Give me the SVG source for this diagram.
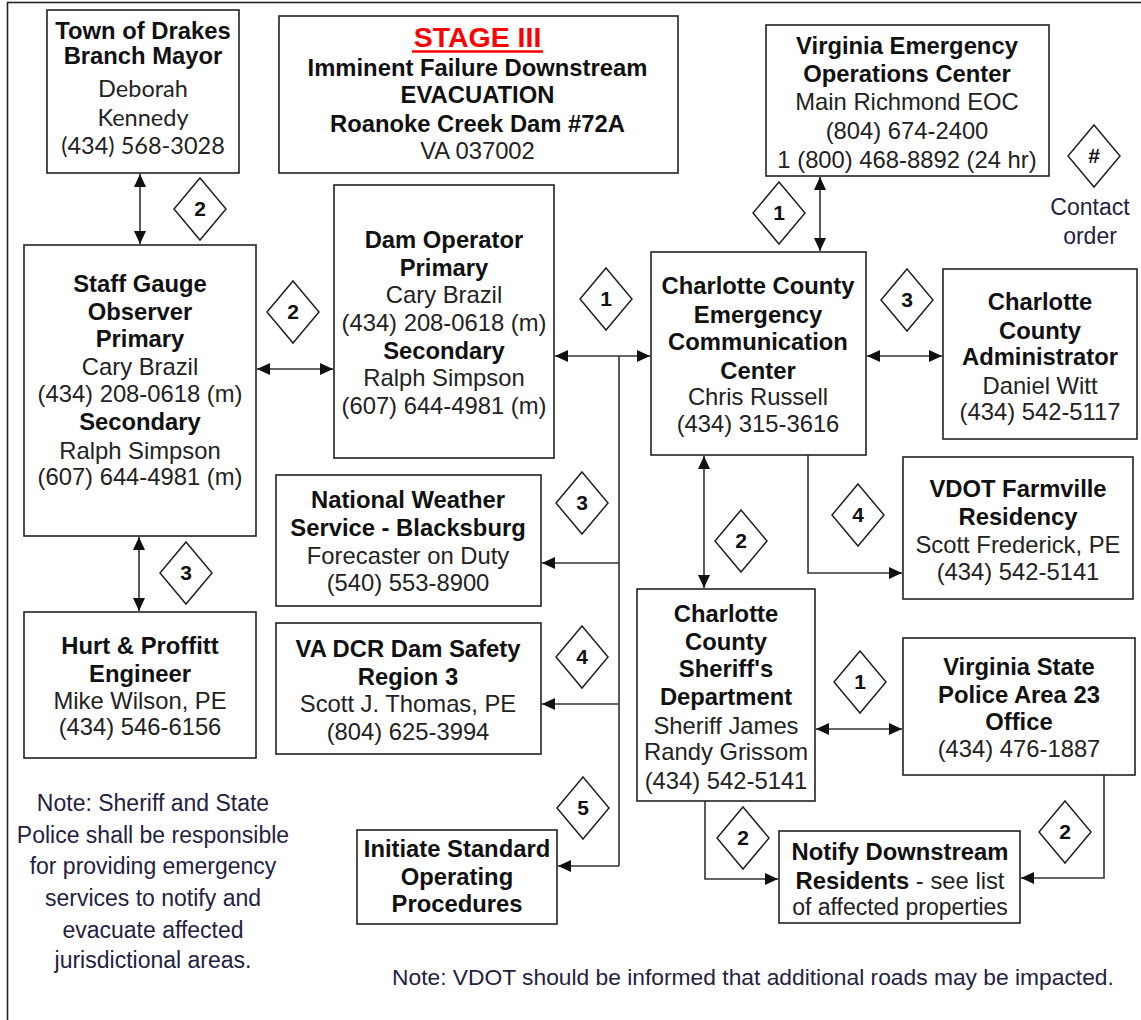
<svg xmlns="http://www.w3.org/2000/svg" width="1141" height="1020" viewBox="0 0 1141 1020">
<style>
.box{fill:#fff;stroke:#222;stroke-width:1.6}
.b{font-family:"Liberation Sans",Arial,sans-serif;font-weight:bold;font-size:23.8px;fill:#111;text-anchor:middle}
.n{font-family:"Liberation Sans",Arial,sans-serif;font-size:23.8px;fill:#222;text-anchor:middle}
.c{font-family:Lato,"Liberation Sans",sans-serif;font-size:23.5px;fill:#222;text-anchor:middle}
.note{font-family:"Liberation Sans",Arial,sans-serif;font-size:23px;fill:#1f2240;text-anchor:middle}
.dia{fill:#fff;stroke:#222;stroke-width:1.5}
.dn{font-family:"Liberation Sans",Arial,sans-serif;font-weight:bold;font-size:21px;fill:#111;text-anchor:middle}
.ln{fill:none;stroke:#333;stroke-width:1.6}
</style>
<defs>
<marker id="ah" markerUnits="userSpaceOnUse" markerWidth="14" markerHeight="12" refX="13" refY="6" orient="auto-start-reverse">
<path d="M0,0 L13,6 L0,12 z" fill="#111"/>
</marker>
<g id="dshape"><path d="M0,-31 L26,0 L0,31 L-26,0 z"/></g>
</defs>
<rect x="7.5" y="2.5" width="1140" height="1030" fill="#fff" stroke="#222" stroke-width="1.6"/>

<g id="connectors">
<line class="ln" x1="140" y1="174" x2="140" y2="244" marker-start="url(#ah)" marker-end="url(#ah)"/>
<line class="ln" x1="257" y1="369" x2="333" y2="369" marker-start="url(#ah)" marker-end="url(#ah)"/>
<line class="ln" x1="555" y1="356" x2="650" y2="356" marker-start="url(#ah)" marker-end="url(#ah)"/>
<line class="ln" x1="820" y1="177" x2="820" y2="251" marker-start="url(#ah)" marker-end="url(#ah)"/>
<line class="ln" x1="867" y1="356" x2="942" y2="356" marker-start="url(#ah)" marker-end="url(#ah)"/>
<path class="ln" d="M808,455 V573 H902" marker-end="url(#ah)"/>
<path class="ln" d="M619,356 V866"/>
<path class="ln" d="M619,563 H542" marker-end="url(#ah)"/>
<path class="ln" d="M619,704 H542" marker-end="url(#ah)"/>
<path class="ln" d="M619,866 H558" marker-end="url(#ah)"/>
<line class="ln" x1="704" y1="456" x2="704" y2="588" marker-start="url(#ah)" marker-end="url(#ah)"/>
<line class="ln" x1="816" y1="729" x2="902" y2="729" marker-start="url(#ah)" marker-end="url(#ah)"/>
<path class="ln" d="M705,801 V879 H778" marker-end="url(#ah)"/>
<path class="ln" d="M1104,775 V878 H1021" marker-end="url(#ah)"/>
<line class="ln" x1="139" y1="537" x2="139" y2="611" marker-start="url(#ah)" marker-end="url(#ah)"/>
</g>

<g id="mayor">
<rect class="box" x="47" y="10" width="192" height="163"/>
<text class="b" x="143" y="39">Town of Drakes</text>
<text class="b" x="143" y="64">Branch Mayor</text>
<text class="c" x="143" y="97">Deborah</text>
<text class="c" x="143" y="126">Kennedy</text>
<text class="c" x="143" y="154">(434) 568-3028</text>
</g>

<g id="stage">
<rect class="box" x="279" y="16" width="399" height="157"/>
<text class="b" x="477.5" y="47" style="fill:#f00;font-size:28.5px">STAGE III</text>
<line x1="412" y1="51.5" x2="543" y2="51.5" stroke="#f00" stroke-width="2.6"/>
<text class="b" x="477.5" y="76">Imminent Failure Downstream</text>
<text class="b" x="477.5" y="103">EVACUATION</text>
<text class="b" x="477.5" y="132">Roanoke Creek Dam #72A</text>
<text class="n" x="477.5" y="159">VA 037002</text>
</g>

<g id="eoc">
<rect class="box" x="766" y="25" width="283" height="151"/>
<text class="b" x="907" y="54">Virginia Emergency</text>
<text class="b" x="907" y="82">Operations Center</text>
<text class="n" x="907" y="110">Main Richmond EOC</text>
<text class="n" x="907" y="139">(804) 674-2400</text>
<text class="n" x="907" y="168">1 (800) 468-8892 (24 hr)</text>
</g>

<g id="legend">
<use href="#dshape" class="dia" x="1094" y="156"/>
<text class="dn" x="1094" y="163">#</text>
<text class="note" x="1090" y="215">Contact</text>
<text class="note" x="1090" y="244">order</text>
</g>

<g id="staff">
<rect class="box" x="24" y="245" width="232" height="291"/>
<text class="b" x="140" y="292">Staff Gauge</text>
<text class="b" x="140" y="320">Observer</text>
<text class="b" x="140" y="347">Primary</text>
<text class="n" x="140" y="375">Cary Brazil</text>
<text class="n" x="140" y="402">(434) 208-0618 (m)</text>
<text class="b" x="140" y="430">Secondary</text>
<text class="n" x="140" y="459">Ralph Simpson</text>
<text class="n" x="140" y="485">(607) 644-4981 (m)</text>
</g>

<g id="damop">
<rect class="box" x="334" y="185" width="220" height="273"/>
<text class="b" x="444" y="248">Dam Operator</text>
<text class="b" x="444" y="276">Primary</text>
<text class="n" x="444" y="303">Cary Brazil</text>
<text class="n" x="444" y="331">(434) 208-0618 (m)</text>
<text class="b" x="444" y="359">Secondary</text>
<text class="n" x="444" y="386">Ralph Simpson</text>
<text class="n" x="444" y="414">(607) 644-4981 (m)</text>
</g>

<g id="ecc">
<rect class="box" x="651" y="252" width="215" height="203"/>
<text class="b" x="758" y="294">Charlotte County</text>
<text class="b" x="758" y="323">Emergency</text>
<text class="b" x="758" y="350">Communication</text>
<text class="b" x="758" y="379">Center</text>
<text class="n" x="758" y="405">Chris Russell</text>
<text class="n" x="758" y="432">(434) 315-3616</text>
</g>

<g id="admin">
<rect class="box" x="943" y="269" width="194" height="170"/>
<text class="b" x="1040" y="310">Charlotte</text>
<text class="b" x="1040" y="339">County</text>
<text class="b" x="1040" y="365">Administrator</text>
<text class="n" x="1040" y="394">Daniel Witt</text>
<text class="n" x="1040" y="420">(434) 542-5117</text>
</g>

<g id="vdot">
<rect class="box" x="903" y="457" width="230" height="142"/>
<text class="b" x="1018" y="497">VDOT Farmville</text>
<text class="b" x="1018" y="525">Residency</text>
<text class="n" x="1018" y="553">Scott Frederick, PE</text>
<text class="n" x="1018" y="580">(434) 542-5141</text>
</g>

<g id="nws">
<rect class="box" x="276" y="475" width="265" height="131"/>
<text class="b" x="408" y="508">National Weather</text>
<text class="b" x="408" y="536">Service - Blacksburg</text>
<text class="n" x="408" y="564">Forecaster on Duty</text>
<text class="n" x="408" y="591">(540) 553-8900</text>
</g>

<g id="dcr">
<rect class="box" x="276" y="623" width="265" height="131"/>
<text class="b" x="408" y="657">VA DCR Dam Safety</text>
<text class="b" x="408" y="685">Region 3</text>
<text class="n" x="408" y="712">Scott J. Thomas, PE</text>
<text class="n" x="408" y="740">(804) 625-3994</text>
</g>

<g id="hurt">
<rect class="box" x="24" y="612" width="232" height="146"/>
<text class="b" x="140" y="654">Hurt &amp; Proffitt</text>
<text class="b" x="140" y="682">Engineer</text>
<text class="n" x="140" y="709">Mike Wilson, PE</text>
<text class="n" x="140" y="735">(434) 546-6156</text>
</g>

<g id="sheriff">
<rect class="box" x="637" y="589" width="178" height="212"/>
<text class="b" x="726" y="622">Charlotte</text>
<text class="b" x="726" y="650">County</text>
<text class="b" x="726" y="677">Sheriff's</text>
<text class="b" x="726" y="705">Department</text>
<text class="n" x="726" y="734">Sheriff James</text>
<text class="n" x="726" y="760">Randy Grissom</text>
<text class="n" x="726" y="789">(434) 542-5141</text>
</g>

<g id="vsp">
<rect class="box" x="903" y="638" width="232" height="137"/>
<text class="b" x="1019" y="675">Virginia State</text>
<text class="b" x="1019" y="703">Police Area 23</text>
<text class="b" x="1019" y="730">Office</text>
<text class="n" x="1019" y="757">(434) 476-1887</text>
</g>

<g id="notify">
<rect class="box" x="779" y="831" width="241" height="92"/>
<text class="b" x="900" y="860">Notify Downstream</text>
<text class="n" x="900" y="889"><tspan font-weight="bold" fill="#111">Residents</tspan> - see list</text>
<text class="n" x="900" y="915" style="font-size:23px">of affected properties</text>
</g>

<g id="initiate">
<rect class="box" x="357" y="830" width="200" height="94"/>
<text class="b" x="457" y="857">Initiate Standard</text>
<text class="b" x="457" y="885">Operating</text>
<text class="b" x="457" y="912">Procedures</text>
</g>

<g id="diamonds">
<use href="#dshape" class="dia" x="200" y="209"/><text class="dn" x="200" y="216">2</text>
<use href="#dshape" class="dia" x="293" y="312"/><text class="dn" x="293" y="319">2</text>
<use href="#dshape" class="dia" x="606" y="299"/><text class="dn" x="606" y="306">1</text>
<use href="#dshape" class="dia" x="779" y="213"/><text class="dn" x="779" y="220">1</text>
<use href="#dshape" class="dia" x="907" y="300"/><text class="dn" x="907" y="307">3</text>
<use href="#dshape" class="dia" x="858" y="515"/><text class="dn" x="858" y="522">4</text>
<use href="#dshape" class="dia" x="582" y="503"/><text class="dn" x="582" y="510">3</text>
<use href="#dshape" class="dia" x="582" y="657"/><text class="dn" x="582" y="664">4</text>
<use href="#dshape" class="dia" x="583" y="808"/><text class="dn" x="583" y="815">5</text>
<use href="#dshape" class="dia" x="186" y="573"/><text class="dn" x="186" y="580">3</text>
<use href="#dshape" class="dia" x="741" y="541"/><text class="dn" x="741" y="548">2</text>
<use href="#dshape" class="dia" x="860" y="682"/><text class="dn" x="860" y="689">1</text>
<use href="#dshape" class="dia" x="743" y="838"/><text class="dn" x="743" y="845">2</text>
<use href="#dshape" class="dia" x="1065" y="832"/><text class="dn" x="1065" y="839">2</text>
</g>

<g id="notes">
<text class="note" x="153" y="811">Note: Sheriff and State</text>
<text class="note" x="153" y="843">Police shall be responsible</text>
<text class="note" x="153" y="874">for providing emergency</text>
<text class="note" x="153" y="906">services to notify and</text>
<text class="note" x="153" y="938">evacuate affected</text>
<text class="note" x="153" y="968">jurisdictional areas.</text>
<text class="note" x="392" y="985" style="text-anchor:start;font-size:22.8px">Note: VDOT should be informed that additional roads may be impacted.</text>
</g>
</svg>
